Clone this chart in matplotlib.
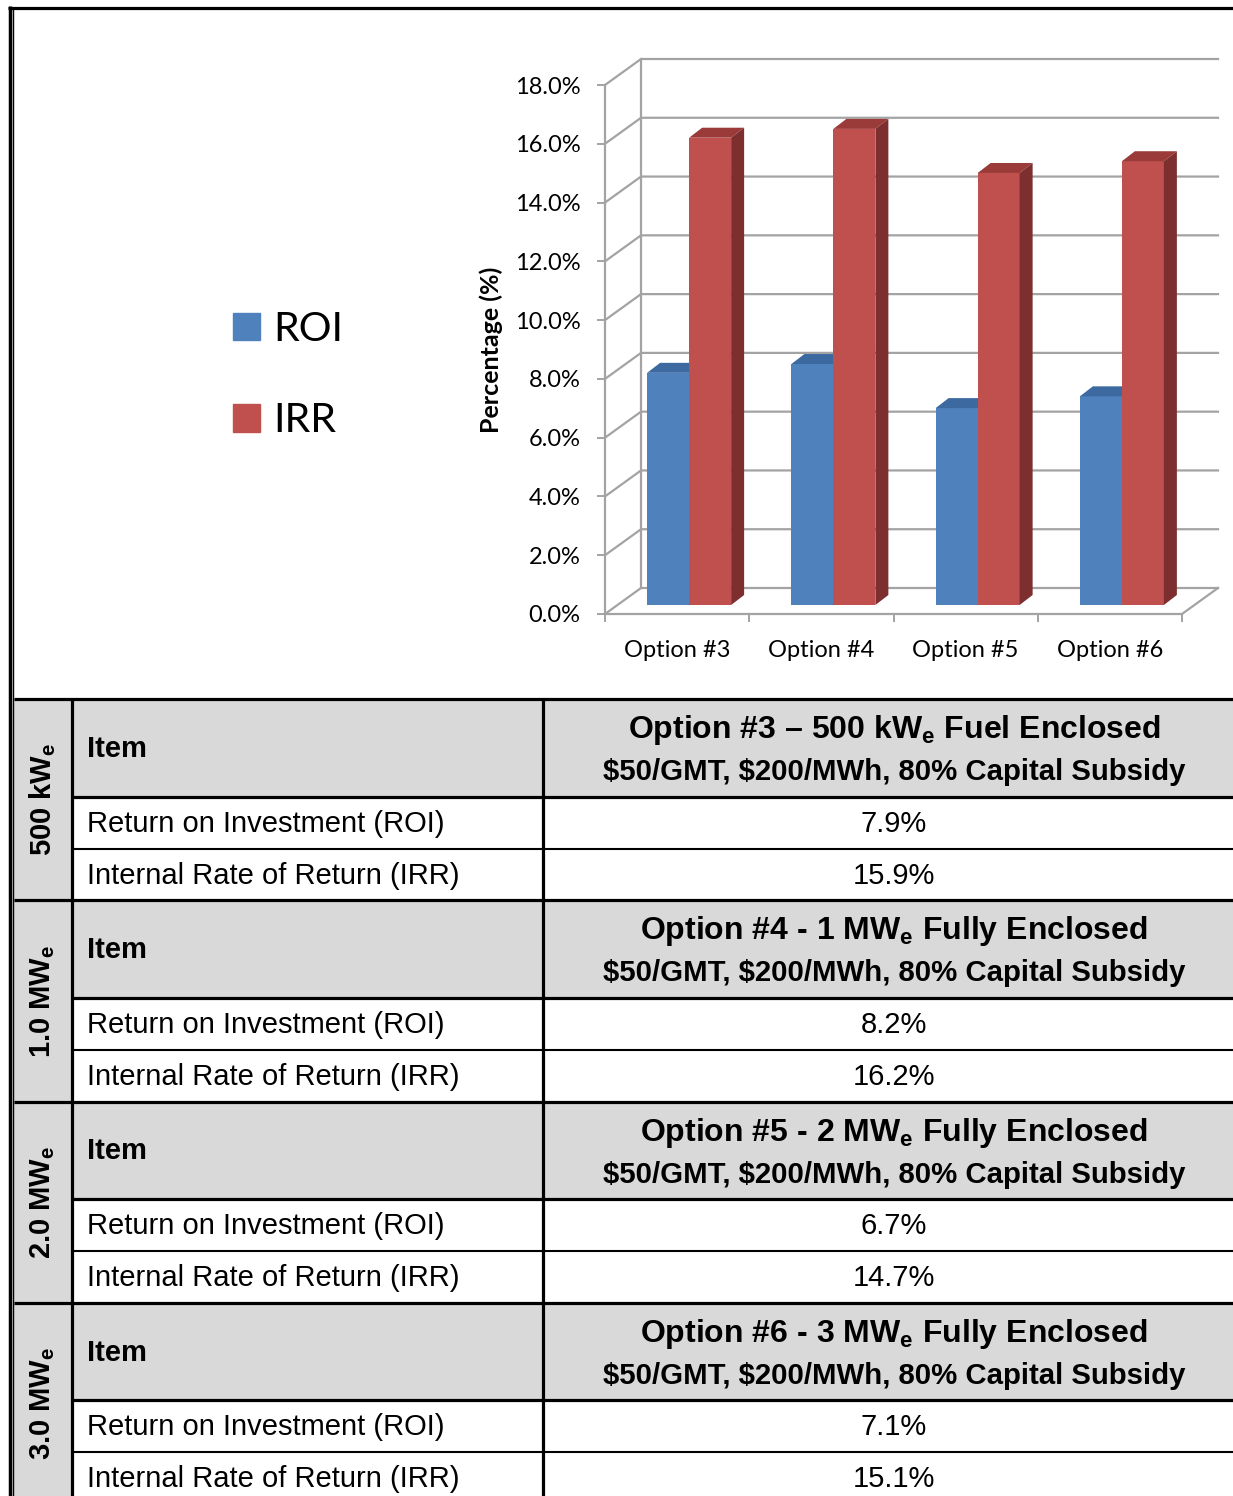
import matplotlib
matplotlib.use('Agg')
import matplotlib.pyplot as plt
import numpy as np
from matplotlib.patches import Polygon, Rectangle, Patch
from matplotlib.lines import Line2D
from matplotlib.transforms import IdentityTransform, offset_copy

# data
options = ['Option #3', 'Option #4', 'Option #5', 'Option #6']
roi = [7.9, 8.2, 6.7, 7.1]
irr = [15.9, 16.2, 14.7, 15.1]
yticks = [0, 2, 4, 6, 8, 10, 12, 14, 16, 18]
sizes = [r'500 kW$_\mathrm{e}$', r'1.0 MW$_\mathrm{e}$', r'2.0 MW$_\mathrm{e}$', r'3.0 MW$_\mathrm{e}$']
titles = [r'Option #3 – 500 kW$_\mathrm{e}$ Fuel Enclosed',
          r'Option #4 - 1 MW$_\mathrm{e}$ Fully Enclosed',
          r'Option #5 - 2 MW$_\mathrm{e}$ Fully Enclosed',
          r'Option #6 - 3 MW$_\mathrm{e}$ Fully Enclosed']
subtitle = r'\$50/GMT, \$200/MWh, 80% Capital Subsidy'
row_names = ['Return on Investment (ROI)', 'Internal Rate of Return (IRR)']

plt.rcParams['mathtext.fontset'] = 'custom'
plt.rcParams['mathtext.rm'] = 'Liberation Sans:bold'
plt.rcParams['mathtext.bf'] = 'Liberation Sans:bold'

BLUE, BLUE_TOP = '#4f81bd', '#3d69a1'
RED, RED_TOP, RED_SIDE = '#c0504d', '#9a3b39', '#7c2f2e'
GRID = '#a3a3a3'
GRAY = '#d9d9d9'
CHART_FONT = 'Lato'
TAB_FONT = 'Liberation Sans'

W, H = 1233, 1496
fig = plt.figure(figsize=(W / 100, H / 100), dpi=100)

# overlay in pixel coords for frame + table
tab = fig.add_axes([0, 0, 1, 1])
tab.set_xlim(0, W)
tab.set_ylim(H, 0)
tab.axis('off')

# chart axes = front plane of the 3d box
ax = fig.add_axes([605 / W, 1 - 614 / H, (1182 - 605) / W, (614 - 85) / H])
ax.set_xlim(0, 4)
ax.set_ylim(0, 18)
ax.patch.set_visible(False)
for s in ['top', 'right']:
    ax.spines[s].set_visible(False)
for s in ['left', 'bottom']:
    ax.spines[s].set_color(GRID)
    ax.spines[s].set_linewidth(1.6)
ax.set_yticks(yticks)
ax.set_yticklabels(['%.1f%%' % v for v in yticks], fontsize=17, family=CHART_FONT)
ax.set_xticks(range(5))
ax.set_xticklabels([])
ax.set_xticks(np.arange(4) + 0.5, minor=True)
ax.set_xticklabels(options, minor=True, fontsize=17, family=CHART_FONT)
ax.tick_params(axis='both', which='major', color=GRID, length=5.8, width=1.4)
ax.tick_params(axis='y', pad=12)
ax.tick_params(axis='x', which='minor', length=0, pad=18.5)
ax.set_ylabel('Percentage (%)', fontsize=18, family=CHART_FONT, fontweight='bold', labelpad=8)

DX, DY = 36, 26      # back wall offset (px)
BX, BY = 12, 9       # bar plane offset
BD, BDY = 13, 10     # bar depth


def to_px(x, v, dx=0, dy=0):
    px, py = ax.transData.transform((x, v))
    return (px + dx, py + dy)


ident = IdentityTransform()
for v in yticks:
    pts = np.array([to_px(0, v), to_px(0, v, DX, DY), to_px(4, v, DX, DY)])
    ax.add_line(Line2D(pts[:, 0], pts[:, 1], color=GRID, lw=1.6, transform=ident, clip_on=False, zorder=1))
for pts in ([to_px(0, 0, DX, DY), to_px(0, 18, DX, DY)], [to_px(4, 0), to_px(4, 0, DX, DY)]):
    pts = np.array(pts)
    ax.add_line(Line2D(pts[:, 0], pts[:, 1], color=GRID, lw=1.6, transform=ident, clip_on=False, zorder=1))

w = 42 / 144.25
centers = np.arange(4) + 0.5
bar_tr = offset_copy(ax.transData, fig=fig, x=BX, y=BY, units='dots')
for i in range(4):
    for vals, left, front, top, side in ((roi, centers[i] - w, BLUE, BLUE_TOP, None),
                                         (irr, centers[i], RED, RED_TOP, RED_SIDE)):
        v = vals[i]
        ax.bar(left, v, width=w, align='edge', color=front, transform=bar_tr, zorder=3, clip_on=False)
        xl, xr = left, left + w
        ax.add_patch(Polygon([to_px(xl, v, BX, BY), to_px(xr, v, BX, BY),
                              to_px(xr, v, BX + BD, BY + BDY), to_px(xl, v, BX + BD, BY + BDY)],
                             closed=True, fc=top, ec='none', transform=ident, clip_on=False, zorder=3))
        if side is not None:
            ax.add_patch(Polygon([to_px(xr, 0, BX, BY), to_px(xr, v, BX, BY),
                                  to_px(xr, v, BX + BD, BY + BDY), to_px(xr, 0, BX + BD, BY + BDY)],
                                 closed=True, fc=side, ec='none', transform=ident, clip_on=False, zorder=3))
ax.set_xlim(0, 4)
ax.set_ylim(0, 18)

handles = [Patch(color=BLUE, label='ROI'), Patch(color=RED, label='IRR')]
fig.legend(handles=handles, loc='center left', bbox_to_anchor=(233 / W, 1 - 375 / H),
           frameon=False, prop={'family': CHART_FONT, 'size': 29.5}, borderpad=0, borderaxespad=0,
           handlelength=0.66, handleheight=0.66, handletextpad=0.32, labelspacing=1.33)

# outer frame
tab.plot([8, W], [7.5, 7.5], color='black', lw=2.3, solid_capstyle='butt')
tab.plot([9.5, 9.5], [6, H], color='black', lw=2.5, solid_capstyle='butt')
tab.plot([12.8, 12.8], [9, H], color='black', lw=1.0, solid_capstyle='butt')

# table
sec_h, head_h, row_h = 201.3, 97.5, 52
x_left, x_lab, x_item, x_right = 13.5, 72, 543, W
x_mid = 894
thick, thin = 2.3, 1.5
for i in range(4):
    top = 699 + i * sec_h
    tab.add_patch(Rectangle((x_left, top), x_lab - x_left, sec_h, fc=GRAY, ec='none'))
    tab.add_patch(Rectangle((x_lab, top), x_right - x_lab, head_h, fc=GRAY, ec='none'))
    tab.text(43, top + sec_h / 2, sizes[i], rotation=90, ha='center', va='center',
             family=TAB_FONT, fontweight='bold', fontsize=21)
    tab.text(87, top + head_h / 2 + 1, 'Item', ha='left', va='center',
             family=TAB_FONT, fontweight='bold', fontsize=21)
    tab.text(x_mid, top + 31, titles[i], ha='center', va='center',
             family=TAB_FONT, fontweight='bold', fontsize=23)
    tab.text(x_mid, top + 73, subtitle, ha='center', va='center',
             family=TAB_FONT, fontweight='bold', fontsize=21.2)
    for j, val in enumerate([roi[i], irr[i]]):
        yc = top + head_h + row_h * (j + 0.5) + 1
        tab.text(87, yc, row_names[j], ha='left', va='center', family=TAB_FONT, fontsize=21)
        tab.text(x_mid, yc, '%.1f%%' % val, ha='center', va='center', family=TAB_FONT, fontsize=21)
    tab.plot([x_left, x_right], [top, top], color='black', lw=thick, solid_capstyle='butt')
    tab.plot([x_lab, x_right], [top + head_h, top + head_h], color='black', lw=thick, solid_capstyle='butt')
    tab.plot([x_lab, x_right], [top + head_h + row_h] * 2, color='black', lw=thin, solid_capstyle='butt')
tab.plot([x_lab, x_lab], [699, H], color='black', lw=thick, solid_capstyle='butt')
tab.plot([x_item, x_item], [699, H], color='black', lw=thick, solid_capstyle='butt')

fig.savefig('out.png', dpi=100)
